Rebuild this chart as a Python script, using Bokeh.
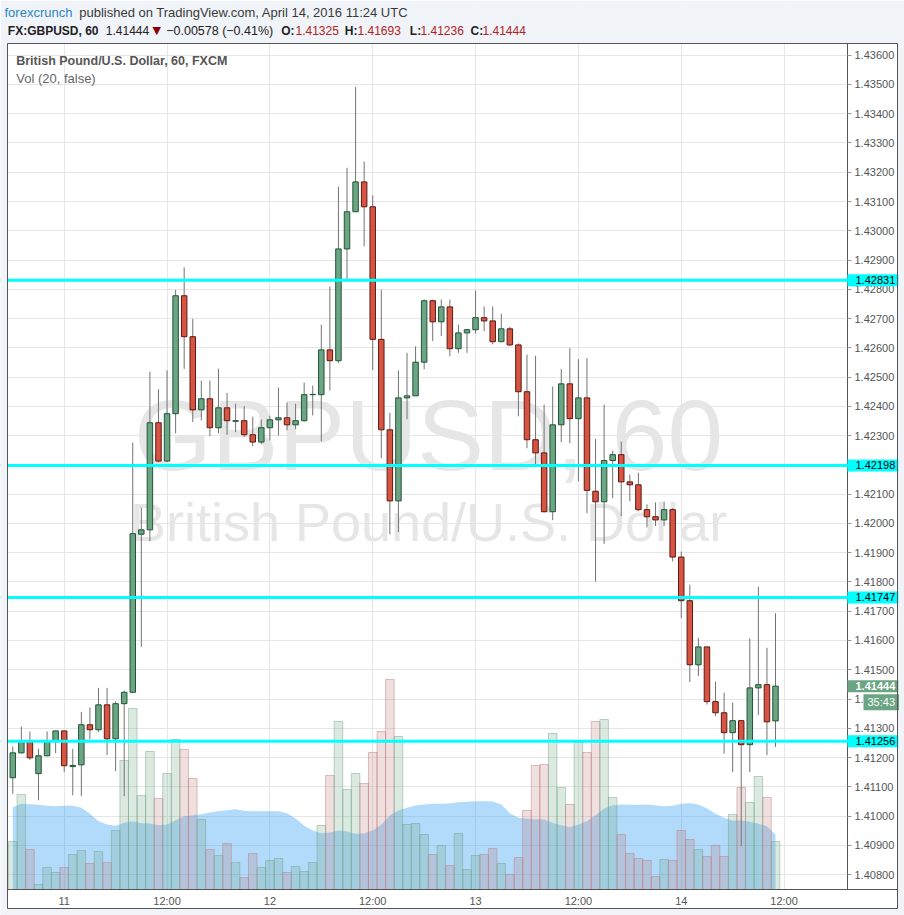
from bokeh.plotting import figure
from bokeh.models import Range1d, FixedTicker, PrintfTickFormatter, Label, Span, ColumnDataSource, BoxAnnotation
from bokeh.embed import file_html
from bokeh.resources import INLINE

# ---------------- data (hourly bars, hour offset from Apr 11 00:00) ----------------
hours = list(range(-6, 84))
opens = [1.41131, 1.41216, 1.41254, 1.41145, 1.41206, 1.41254, 1.41291, 1.41169, 1.41175, 1.41312,
         1.41295, 1.41380, 1.41264, 1.41384, 1.41423, 1.41963, 1.41978, 1.42344, 1.42213, 1.42375,
         1.42778, 1.42638, 1.42388, 1.42426, 1.42327, 1.42395, 1.42349, 1.42351, 1.42303, 1.42278,
         1.42327, 1.42354, 1.42361, 1.42337, 1.42351, 1.42440, 1.42440, 1.42593, 1.42556, 1.42938,
         1.43065, 1.43167, 1.43082, 1.42629, 1.42320, 1.42077, 1.42429, 1.42436, 1.42551, 1.42761,
         1.42689, 1.42740, 1.42597, 1.42651, 1.42662, 1.42703, 1.42692, 1.42621, 1.42665, 1.42610,
         1.42450, 1.42286, 1.42241, 1.42040, 1.42337, 1.42477, 1.42358, 1.42429, 1.42110, 1.42074,
         1.42215, 1.42235, 1.42142, 1.42132, 1.42047, 1.42023, 1.42012, 1.42047, 1.41885, 1.41736,
         1.41517, 1.41578, 1.41391, 1.41353, 1.41285, 1.41326, 1.41244, 1.41438, 1.41449, 1.41325]
highs = [1.41238, 1.41306, 1.41289, 1.41230, 1.41289, 1.41292, 1.41292, 1.41230, 1.41356, 1.41371,
         1.41438, 1.41438, 1.41392, 1.41429, 1.42276, 1.42054, 1.42519, 1.42458, 1.42523, 1.42798,
         1.42875, 1.42699, 1.42488, 1.42488, 1.42529, 1.42446, 1.42409, 1.42401, 1.42365, 1.42355,
         1.42368, 1.42464, 1.42413, 1.42409, 1.42481, 1.42471, 1.42679, 1.42810, 1.43151, 1.43215,
         1.43491, 1.43237, 1.43121, 1.42799, 1.42378, 1.42523, 1.42583, 1.42605, 1.42765, 1.42765,
         1.42765, 1.42765, 1.42679, 1.42665, 1.42796, 1.42741, 1.42741, 1.42716, 1.42672, 1.42615,
         1.42577, 1.42573, 1.42406, 1.42468, 1.42527, 1.42599, 1.42561, 1.42565, 1.42289, 1.42406,
         1.42249, 1.42280, 1.42167, 1.42173, 1.42065, 1.42072, 1.42075, 1.42052, 1.41904, 1.41791,
         1.41609, 1.41578, 1.41460, 1.41422, 1.41388, 1.41326, 1.41607, 1.41784, 1.41575, 1.41693]
lows = [1.41076, 1.41214, 1.41192, 1.41054, 1.41204, 1.41215, 1.41150, 1.41071, 1.41068, 1.41262,
        1.41287, 1.41208, 1.41153, 1.41068, 1.41420, 1.41578, 1.41939, 1.42209, 1.42209, 1.42308,
        1.42528, 1.42346, 1.42352, 1.42298, 1.42308, 1.42303, 1.42312, 1.42295, 1.42264, 1.42270,
        1.42283, 1.42300, 1.42318, 1.42322, 1.42348, 1.42369, 1.42281, 1.42454, 1.42548, 1.42828,
        1.43065, 1.42947, 1.42524, 1.42223, 1.41963, 1.41970, 1.42356, 1.42436, 1.42527, 1.42623,
        1.42640, 1.42571, 1.42583, 1.42583, 1.42648, 1.42657, 1.42612, 1.42621, 1.42606, 1.42366,
        1.42257, 1.42192, 1.42037, 1.42011, 1.42278, 1.42274, 1.42144, 1.42035, 1.41801, 1.41930,
        1.42086, 1.42025, 1.42076, 1.42042, 1.41987, 1.41991, 1.41991, 1.41870, 1.41676, 1.41458,
        1.41478, 1.41381, 1.41341, 1.41213, 1.41150, 1.40897, 1.41150, 1.41345, 1.41208, 1.41236]
closes = [1.41216, 1.41258, 1.41199, 1.41206, 1.41254, 1.41291, 1.41172, 1.41173, 1.41312, 1.41295,
          1.41380, 1.41264, 1.41384, 1.41423, 1.41965, 1.41978, 1.42344, 1.42213, 1.42375, 1.42778,
          1.42638, 1.42388, 1.42426, 1.42327, 1.42395, 1.42351, 1.42351, 1.42303, 1.42278, 1.42327,
          1.42354, 1.42361, 1.42337, 1.42351, 1.42440, 1.42441, 1.42593, 1.42556, 1.42938, 1.43065,
          1.43167, 1.43082, 1.42629, 1.42320, 1.42077, 1.42429, 1.42436, 1.42551, 1.42761, 1.42689,
          1.42740, 1.42597, 1.42651, 1.42662, 1.42703, 1.42692, 1.42621, 1.42665, 1.42610, 1.42450,
          1.42286, 1.42241, 1.42040, 1.42337, 1.42477, 1.42358, 1.42429, 1.42113, 1.42074, 1.42215,
          1.42235, 1.42142, 1.42132, 1.42047, 1.42023, 1.42012, 1.42047, 1.41885, 1.41736, 1.41517,
          1.41578, 1.41391, 1.41353, 1.41285, 1.41326, 1.41244, 1.41438, 1.41449, 1.41322, 1.41444]
volumes = [480, 950, 400, 50, 220, 170, 220, 350, 390, 260,
           380, 270, 590, 1290, 1810, 940, 1380, 910, 1160, 1500,
           1400, 1110, 700, 400, 340, 460, 270, 120, 360, 220,
           290, 310, 170, 230, 180, 270, 640, 1140, 1680, 1000,
           1160, 1060, 1370, 1580, 2100, 1530, 650, 660, 550, 350,
           440, 240, 560, 200, 340, 350, 410, 260, 150, 320,
           790, 1240, 1250, 1560, 1020, 850, 1470, 1370, 1680, 1700,
           920, 550, 360, 310, 290, 130, 300, 290, 590, 500,
           400, 330, 440, 330, 750, 1020, 870, 1130, 920, 480]
vol_ma20 = [823, 857, 853, 847, 837, 833, 837, 837, 817, 757,
            683, 650, 637, 667, 683, 663, 660, 643, 650, 693,
            733, 743, 753, 770, 783, 793, 803, 787, 783, 783,
            783, 783, 763, 710, 637, 590, 563, 570, 590, 580,
            557, 560, 593, 647, 740, 790, 817, 840, 850, 857,
            857, 860, 873, 877, 883, 883, 880, 850, 763, 717,
            707, 703, 700, 667, 643, 623, 650, 683, 743, 810,
            843, 850, 847, 847, 850, 840, 833, 837, 857, 863,
            850, 810, 757, 717, 687, 690, 677, 657, 633, 550]
tick_hours = [0, 12, 24, 36, 48, 60, 72, 84]
tick_labels = ["11", "12:00", "12", "12:00", "13", "12:00", "14", "12:00"]
price_ticks = [1.408, 1.409, 1.410, 1.411, 1.412, 1.413, 1.414, 1.415, 1.416, 1.417,
               1.418, 1.419, 1.420, 1.421, 1.422, 1.423, 1.424, 1.425, 1.426, 1.427,
               1.428, 1.429, 1.430, 1.431, 1.432, 1.433, 1.434, 1.435, 1.436]
levels = [1.42831, 1.42198, 1.41747, 1.41256]
last_price = 1.41444
countdown = "35:43"

# ---------------- styling / layout ----------------
UP_FILL, UP_LINE = "#6ba583", "#225437"
DN_FILL, DN_LINE = "#d75442", "#5b1a13"
WICK = "#737375"
AXIS_C = "#555555"
FONT = "Liberation Sans"
PAGE_BG = "#f0f3f7"
W, H = 904, 915

# visible price pane: x 8..847 px, y 43..889 px; the canvas frame spans everything
X_MIN, X_MAX = -7.4335, 98.051
Y_MIN, Y_MAX = 1.406602, 1.437869
PANE_X = (-6.5, 91.4)
PANE_Y = (1.40749, 1.43640)

up = [c >= o for o, c in zip(opens, closes)]
candles = ColumnDataSource(dict(
    x=hours, high=highs, low=lows,
    top=[max(o, c) for o, c in zip(opens, closes)],
    bottom=[min(o, c) for o, c in zip(opens, closes)],
    fill=[UP_FILL if u else DN_FILL for u in up],
    line=[UP_LINE if u else DN_LINE for u in up],
))
vols = ColumnDataSource(dict(
    x=hours, v=volumes,
    fill=["#6ba583" if u else "#be7878" for u in up],
))

p = figure(width=W, height=H, title=None,
           x_range=Range1d(X_MIN, X_MAX), y_range=Range1d(Y_MIN, Y_MAX),
           y_axis_location="right", output_backend="svg", toolbar_location=None,
           min_border_left=0, min_border_right=0, min_border_top=0, min_border_bottom=0)
p.extra_y_ranges = {"vol": Range1d(-260, 8890)}
p.background_fill_color = "white"
p.border_fill_color = PAGE_BG
p.outline_line_color = None

# axes, pinned onto the pane edges
p.xaxis.fixed_location = PANE_Y[0]
p.xaxis.bounds = (-6.617, 97.235)
p.xaxis.ticker = FixedTicker(ticks=tick_hours)
p.xaxis.major_label_overrides = {h: t for h, t in zip(tick_hours, tick_labels)}
p.xaxis.major_tick_out = 0
p.xaxis.major_tick_in = 0
p.xaxis.minor_tick_out = 0
p.xaxis.minor_tick_in = 0
p.xaxis.major_label_standoff = 5
p.xaxis.axis_line_color = AXIS_C
p.xaxis.major_label_text_font = FONT
p.xaxis.major_label_text_font_size = "11px"
p.xaxis.major_label_text_color = "#555555"

p.yaxis.fixed_location = PANE_X[1]
p.yaxis.bounds = PANE_Y
p.yaxis.ticker = FixedTicker(ticks=price_ticks)
p.yaxis.formatter = PrintfTickFormatter(format="%.5f")
p.yaxis.major_tick_out = 4
p.yaxis.major_tick_in = 0
p.yaxis.minor_tick_out = 0
p.yaxis.minor_tick_in = 0
p.yaxis.major_tick_line_color = "#999999"
p.yaxis.major_label_standoff = 3
p.yaxis.axis_line_color = AXIS_C
p.yaxis.major_label_text_font = FONT
p.yaxis.major_label_text_font_size = "11px"
p.yaxis.major_label_text_color = "#555555"

p.xgrid.ticker = FixedTicker(ticks=tick_hours)
p.ygrid.ticker = FixedTicker(ticks=price_ticks)
p.grid.grid_line_color = "#e6e6e6"
p.grid.grid_line_width = 1


def box(l, t, r, b, fill=None, line=None, level="underlay"):
    """Screen-space rectangle given in page pixels (top-left origin)."""
    p.add_layout(BoxAnnotation(left=l, right=r, top=H - t, bottom=H - b,
                               left_units="screen", right_units="screen",
                               top_units="screen", bottom_units="screen",
                               fill_color=fill if fill else "white", fill_alpha=1 if fill else 0,
                               line_color=line if line else "white", line_alpha=1 if line else 0,
                               line_width=1, level=level))


# page chrome drawn over the grid
box(0, 0, W, 43, PAGE_BG)
box(0, 43, 7, H, PAGE_BG)
box(897, 43, W, H, PAGE_BG)
box(0, 908, W, H, PAGE_BG)
box(847, 43, 897, 908, "white")
box(7, 889, 847, 908, "white")

# watermark (inside the pane, behind everything)
p.add_layout(Label(x=428, y=H - 434, x_units="screen", y_units="screen", text="GBPUSD, 60",
                   text_align="center", text_baseline="middle", text_font=FONT,
                   text_font_size="100px", text_color="#e6e6e6", level="image"))
p.add_layout(Label(x=428, y=H - 521.5, x_units="screen", y_units="screen",
                   text="British Pound/U.S. Dollar",
                   text_align="center", text_baseline="middle", text_font=FONT,
                   text_font_size="54px", text_color="#e6e6e6", level="image"))

# volume + MA
p.varea(x=hours, y1=[0] * len(hours), y2=vol_ma20, y_range_name="vol",
        fill_color="#2196f3", fill_alpha=0.35)
p.vbar(x="x", top="v", bottom=0, width=1.0, source=vols, y_range_name="vol",
       fill_color="fill", fill_alpha=0.24, line_color="fill", line_alpha=0.45, line_width=1)

# candles
p.segment(x0="x", y0="low", x1="x", y1="high", source=candles, line_color=WICK, line_width=1)
p.vbar(x="x", top="top", bottom="bottom", width=0.64, source=candles,
       fill_color="fill", line_color="line", line_width=1)

# horizontal levels
for lv in levels:
    p.add_layout(Span(location=lv, dimension="width", line_color="#00ffff", line_width=3))
box(0, 43, 7, H, PAGE_BG, level="annotation")
box(897, 43, W, H, PAGE_BG, level="annotation")


def make_label(**kw):
    pad = kw.pop("pad", None)
    if pad is not None:
        try:
            return Label(padding=dict(left=pad[0], right=pad[1], top=pad[2], bottom=pad[3]), **kw)
        except Exception:
            return Label(padding=pad[2], **kw)
    return Label(**kw)


# right-axis price tags
for lv in levels:
    p.add_layout(make_label(x=847, x_units="screen", y=lv, text=f"{lv:.5f}", text_align="left",
                            text_baseline="middle", text_font=FONT, text_font_size="11px",
                            text_color="#000000", background_fill_color="#00ffff",
                            pad=(8, 3, 2, 2)))
p.add_layout(make_label(x=847, x_units="screen", y=last_price, text=f"{last_price:.5f}",
                        text_align="left", text_baseline="middle", text_font=FONT,
                        text_font_size="11px", text_font_style="bold", text_color="white",
                        background_fill_color="#6ba583", pad=(8, 3, 2, 2)))
p.add_layout(make_label(x=863, x_units="screen", y=last_price, y_offset=-16, text=countdown,
                        text_align="left", text_baseline="middle", text_font=FONT,
                        text_font_size="11px", text_color="white",
                        background_fill_color="#6ba583", pad=(4, 4, 2, 2)))

# outer frame
box(7, 43, 897, 908, None, AXIS_C, level="annotation")


def head(x, yc, s, color="#333333", size="13px", style="normal", font=FONT):
    p.add_layout(Label(x=x, y=H - yc, x_units="screen", y_units="screen", text=s,
                       text_baseline="middle", text_font=font, text_font_size=size,
                       text_font_style=style, text_color=color))


# header
head(4, 12, "forexcrunch", color="#2e86c1")
head(78.7, 12, "published on TradingView.com, April 14, 2016 11:24 UTC", color="#3a3a3a")
RED = "#b22222"
DARK = "#222222"
head(7.3, 30, "FX:GBPUSD, 60", color=DARK, size="12px", style="bold")
head(105.3, 30, "1.41444", color=DARK, size="12px")
head(152, 30, "\u25bc", color="#8b0000", size="11px", font="DejaVu Sans")
head(165.7, 30, "\u22120.00578 (\u22120.41%)", color=DARK, size="12.5px")
head(280.7, 30, "O:", color=DARK, size="12px", style="bold")
head(295, 30, "1.41325", color=RED, size="12px")
head(344.3, 30, "H:", color=DARK, size="12px", style="bold")
head(357, 30, "1.41693", color=RED, size="12px")
head(409.3, 30, "L:", color=DARK, size="12px", style="bold")
head(420, 30, "1.41236", color=RED, size="12px")
head(470, 30, "C:", color=DARK, size="12px", style="bold")
head(482, 30, "1.41444", color=RED, size="12px")

# legend texts inside the pane
head(15.7, 60.5, "British Pound/U.S. Dollar, 60, FXCM", color="#555555", size="12.5px", style="bold")
head(15.7, 77.5, "Vol (20, false)", color="#666666")

open("out.html", "w").write(file_html(p, INLINE))
